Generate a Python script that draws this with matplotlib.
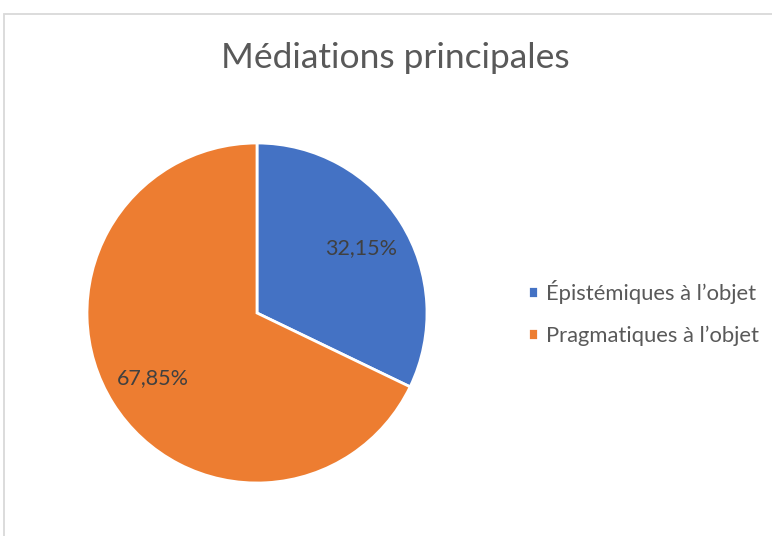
import matplotlib
matplotlib.use("Agg")
import matplotlib.pyplot as plt
from matplotlib.patches import Rectangle

# Data
labels = ["Épistémiques à l’objet", "Pragmatiques à l’objet"]
values = [32.15, 67.85]
colors = ["#4472C4", "#ED7D31"]
title = "Médiations principales"

plt.rcParams["font.family"] = ["Lato", "DejaVu Sans"]

W, H = 772, 536
fig = plt.figure(figsize=(W / 100, H / 100), dpi=100)

# chart border
fig.patches.append(Rectangle((4 / W, -0.1), 1.1, (H - 13.5) / H + 0.1,
                             transform=fig.transFigure, fill=False,
                             edgecolor="#D9D9D9", linewidth=1.3))

ax = fig.add_axes([87 / W, (H - 483) / H, 340 / W, 340 / H])
wedges, texts = ax.pie(values, colors=colors, startangle=90, counterclock=False,
                       labels=[f"{v:.2f}".replace(".", ",") + "%" for v in values],
                       labeldistance=0.72,
                       wedgeprops=dict(edgecolor="white", linewidth=2))
for t in texts:
    t.set_fontsize(15.5)
    t.set_color("#404040")
    t.set_ha("center")
    t.set_va("center")
ax.set_xlim(-1, 1)
ax.set_ylim(-1, 1)
ax.set_aspect("equal")

fig.text(395 / W, 1 - 58 / H, title, ha="center", va="center",
         fontsize=25.5, color="#595959")

leg = fig.legend(wedges, labels, loc="center left",
                 bbox_to_anchor=(519 / W, 1 - 313 / H),
                 frameon=False, fontsize=15.8, handlelength=0.45, handleheight=0.45,
                 handletextpad=0.4, labelspacing=1.0, borderaxespad=0)
for t in leg.get_texts():
    t.set_color("#595959")

fig.savefig("out.png", dpi=100)
